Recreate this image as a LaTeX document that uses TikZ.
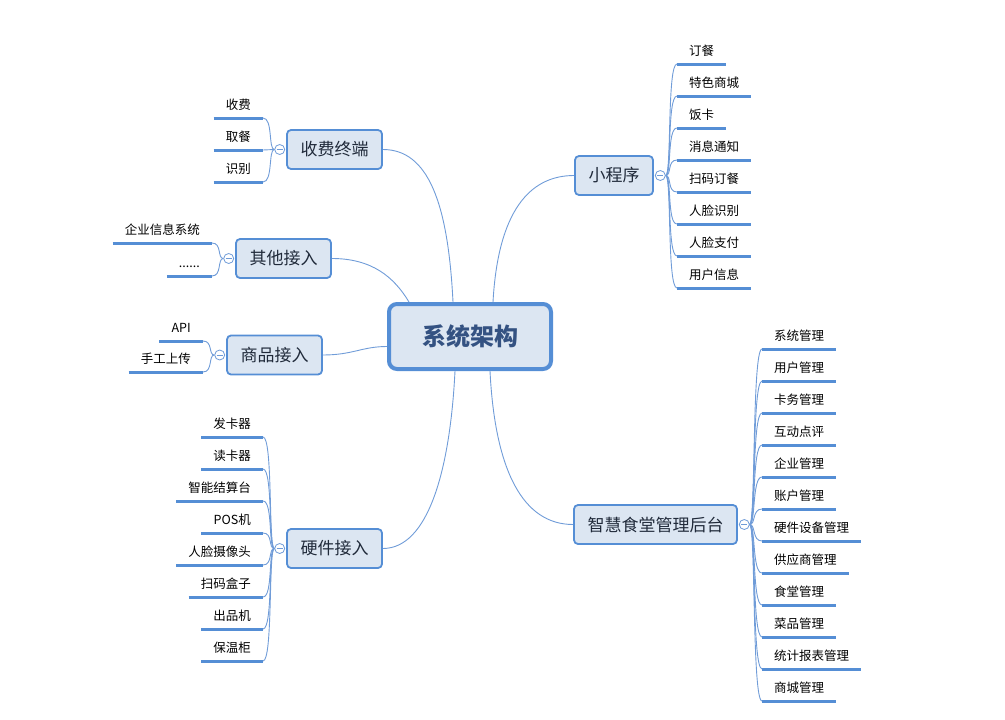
\documentclass[tikz,border=0pt]{standalone}
\usepackage{fontspec}
\setmainfont{Noto Sans CJK SC}
\usetikzlibrary{positioning}
\definecolor{boxblue}{RGB}{85,142,213}
\definecolor{boxfill}{RGB}{220,230,242}
\definecolor{wireblue}{RGB}{112,156,216}
\definecolor{hubtext}{RGB}{52,82,130}
\definecolor{topictext}{RGB}{32,42,58}
\tikzset{
	hub/.style={draw=boxblue, fill=boxfill, line width=4pt, rounded corners=8pt, minimum width=162pt, minimum height=65pt, text=hubtext, font=\fontsize{24}{28}\selectfont\bfseries},
	topic/.style={draw=boxblue, fill=boxfill, line width=1.8pt, rounded corners=4pt, inner xsep=13.5pt, minimum height=39pt, text=topictext, font=\fontsize{17}{20}\selectfont},
	knob/.style={circle, draw=wireblue, fill=white, line width=0.8pt, minimum size=10pt, inner sep=0pt, path picture={\draw[wireblue,line width=0.8pt] ([xshift=-3pt]path picture bounding box.center) -- ([xshift=3pt]path picture bounding box.center);}},
	uline/.style={draw=boxblue, line width=3pt},
	leafbase/.style={font=\fontsize{12.5}{15}\selectfont, inner xsep=12pt, inner ysep=6pt, text height=10pt, text depth=2pt, append after command={(\tikzlastnode.south west) edge[uline] (\tikzlastnode.south east)}},
	leafL/.style={leafbase, anchor=south east},
	leafR/.style={leafbase, anchor=south west},
	wire/.style={draw=wireblue, line width=0.9pt},
}
\begin{document}
\begin{tikzpicture}[x=1pt,y=-1pt]
	\useasboundingbox (0,0) rectangle (1005,720);
	% Central topic
	\node [hub] (hub) at (470,336.5) {系统架构};
	% Main topics
	\node [topic] (fee) at (334.5,149.5) {收费终端};
	\node [topic] (other) at (283.5,258.5) {其他接入};
	\node [topic] (goods) at (274.5,355) {商品接入};
	\node [topic] (hw) at (334.5,548.5) {硬件接入};
	\node [topic] (app) at (614,175.5) {小程序};
	\node [topic] (admin) at (655.5,524.5) {智慧食堂管理后台};
		% Collapse knobs
		\node [knob, left=1pt of fee] (feek) {};
		\node [knob, left=1pt of other] (otherk) {};
		\node [knob, left=1pt of goods] (goodsk) {};
		\node [knob, left=1pt of hw] (hwk) {};
		\node [knob, right=1pt of app] (appk) {};
		\node [knob, right=1pt of admin] (admink) {};
	% Hub to main topics
	\draw [wire] ([xshift=-17pt]hub.north) .. controls +(-5,-100) and +(45,0) .. (fee.east);
	\draw [wire] ([xshift=22pt]hub.north west) .. controls +(-15,-25) and +(40,0) .. (other.east);
	\draw [wire] ([yshift=-10pt]hub.west) .. controls +(-25,0) and +(30,0) .. (goods.east);
	\draw [wire] ([xshift=-15pt]hub.south) .. controls +(-5,100) and +(45,0) .. (hw.east);
	\draw [wire] ([xshift=23pt]hub.north) .. controls +(5,-90) and +(-45,0) .. (app.west);
	\draw [wire] ([xshift=20pt]hub.south) .. controls +(5,100) and +(-50,0) .. (admin.west);

	% Leaves: fee
	\node [leafL] (fee1) at (263,118) {收费};
	\node [leafL] (fee2) at (263,150) {取餐};
	\node [leafL] (fee3) at (263,182) {识别};
		\draw [wire] (fee1.south east) .. controls +(10,0) and +(-6,0) .. (feek.west);
		\draw [wire] (fee2.south east) -- (feek.west);
		\draw [wire] (fee3.south east) .. controls +(10,0) and +(-6,0) .. (feek.west);
	% Leaves: other
	\node [leafL] (other1) at (212,243) {企业信息系统};
	\node [leafL] (other2) at (212,276) {......};
		\draw [wire] (other1.south east) .. controls +(10,0) and +(-6,0) .. (otherk.west);
		\draw [wire] (other2.south east) .. controls +(10,0) and +(-6,0) .. (otherk.west);
	% Leaves: goods
	\node [leafL] (goods1) at (203,341) {API};
	\node [leafL] (goods2) at (203,372) {手工上传};
		\draw [wire] (goods1.south east) .. controls +(10,0) and +(-6,0) .. (goodsk.west);
		\draw [wire] (goods2.south east) .. controls +(10,0) and +(-6,0) .. (goodsk.west);
	% Leaves: hardware
	\node [leafL] (hw1) at (263,437) {发卡器};
	\node [leafL] (hw2) at (263,469) {读卡器};
	\node [leafL] (hw3) at (263,501) {智能结算台};
	\node [leafL] (hw4) at (263,533) {POS机};
	\node [leafL] (hw5) at (263,565) {人脸摄像头};
	\node [leafL] (hw6) at (263,597) {扫码盒子};
	\node [leafL] (hw7) at (263,629) {出品机};
	\node [leafL] (hw8) at (263,661) {保温柜};
		\draw [wire] (hw1.south east) .. controls +(10,0) and +(-6,0) .. (hwk.west);
		\draw [wire] (hw2.south east) .. controls +(10,0) and +(-6,0) .. (hwk.west);
		\draw [wire] (hw3.south east) .. controls +(10,0) and +(-6,0) .. (hwk.west);
		\draw [wire] (hw4.south east) .. controls +(10,0) and +(-6,0) .. (hwk.west);
		\draw [wire] (hw5.south east) .. controls +(10,0) and +(-6,0) .. (hwk.west);
		\draw [wire] (hw6.south east) .. controls +(10,0) and +(-6,0) .. (hwk.west);
		\draw [wire] (hw7.south east) .. controls +(10,0) and +(-6,0) .. (hwk.west);
		\draw [wire] (hw8.south east) .. controls +(10,0) and +(-6,0) .. (hwk.west);
	% Leaves: mini program
	\node [leafR] (app1) at (677,64) {订餐};
	\node [leafR] (app2) at (677,96) {特色商城};
	\node [leafR] (app3) at (677,128) {饭卡};
	\node [leafR] (app4) at (677,160) {消息通知};
	\node [leafR] (app5) at (677,192) {扫码订餐};
	\node [leafR] (app6) at (677,224) {人脸识别};
	\node [leafR] (app7) at (677,256) {人脸支付};
	\node [leafR] (app8) at (677,288) {用户信息};
		\draw [wire] (appk.east) .. controls +(6,0) and +(-10,0) .. (app1.south west);
		\draw [wire] (appk.east) .. controls +(6,0) and +(-10,0) .. (app2.south west);
		\draw [wire] (appk.east) .. controls +(6,0) and +(-10,0) .. (app3.south west);
		\draw [wire] (appk.east) .. controls +(6,0) and +(-10,0) .. (app4.south west);
		\draw [wire] (appk.east) .. controls +(6,0) and +(-10,0) .. (app5.south west);
		\draw [wire] (appk.east) .. controls +(6,0) and +(-10,0) .. (app6.south west);
		\draw [wire] (appk.east) .. controls +(6,0) and +(-10,0) .. (app7.south west);
		\draw [wire] (appk.east) .. controls +(6,0) and +(-10,0) .. (app8.south west);
	% Leaves: admin back end
	\node [leafR] (adm1) at (762,349) {系统管理};
	\node [leafR] (adm2) at (762,381) {用户管理};
	\node [leafR] (adm3) at (762,413) {卡务管理};
	\node [leafR] (adm4) at (762,445) {互动点评};
	\node [leafR] (adm5) at (762,477) {企业管理};
	\node [leafR] (adm6) at (762,509) {账户管理};
	\node [leafR] (adm7) at (762,541) {硬件设备管理};
	\node [leafR] (adm8) at (762,573) {供应商管理};
	\node [leafR] (adm9) at (762,605) {食堂管理};
	\node [leafR] (adm10) at (762,637) {菜品管理};
	\node [leafR] (adm11) at (762,669) {统计报表管理};
	\node [leafR] (adm12) at (762,701) {商城管理};
		\draw [wire] (admink.east) .. controls +(6,0) and +(-10,0) .. (adm1.south west);
		\draw [wire] (admink.east) .. controls +(6,0) and +(-10,0) .. (adm2.south west);
		\draw [wire] (admink.east) .. controls +(6,0) and +(-10,0) .. (adm3.south west);
		\draw [wire] (admink.east) .. controls +(6,0) and +(-10,0) .. (adm4.south west);
		\draw [wire] (admink.east) .. controls +(6,0) and +(-10,0) .. (adm5.south west);
		\draw [wire] (admink.east) .. controls +(6,0) and +(-10,0) .. (adm6.south west);
		\draw [wire] (admink.east) .. controls +(6,0) and +(-10,0) .. (adm7.south west);
		\draw [wire] (admink.east) .. controls +(6,0) and +(-10,0) .. (adm8.south west);
		\draw [wire] (admink.east) .. controls +(6,0) and +(-10,0) .. (adm9.south west);
		\draw [wire] (admink.east) .. controls +(6,0) and +(-10,0) .. (adm10.south west);
		\draw [wire] (admink.east) .. controls +(6,0) and +(-10,0) .. (adm11.south west);
		\draw [wire] (admink.east) .. controls +(6,0) and +(-10,0) .. (adm12.south west);
\end{tikzpicture}
\end{document}
